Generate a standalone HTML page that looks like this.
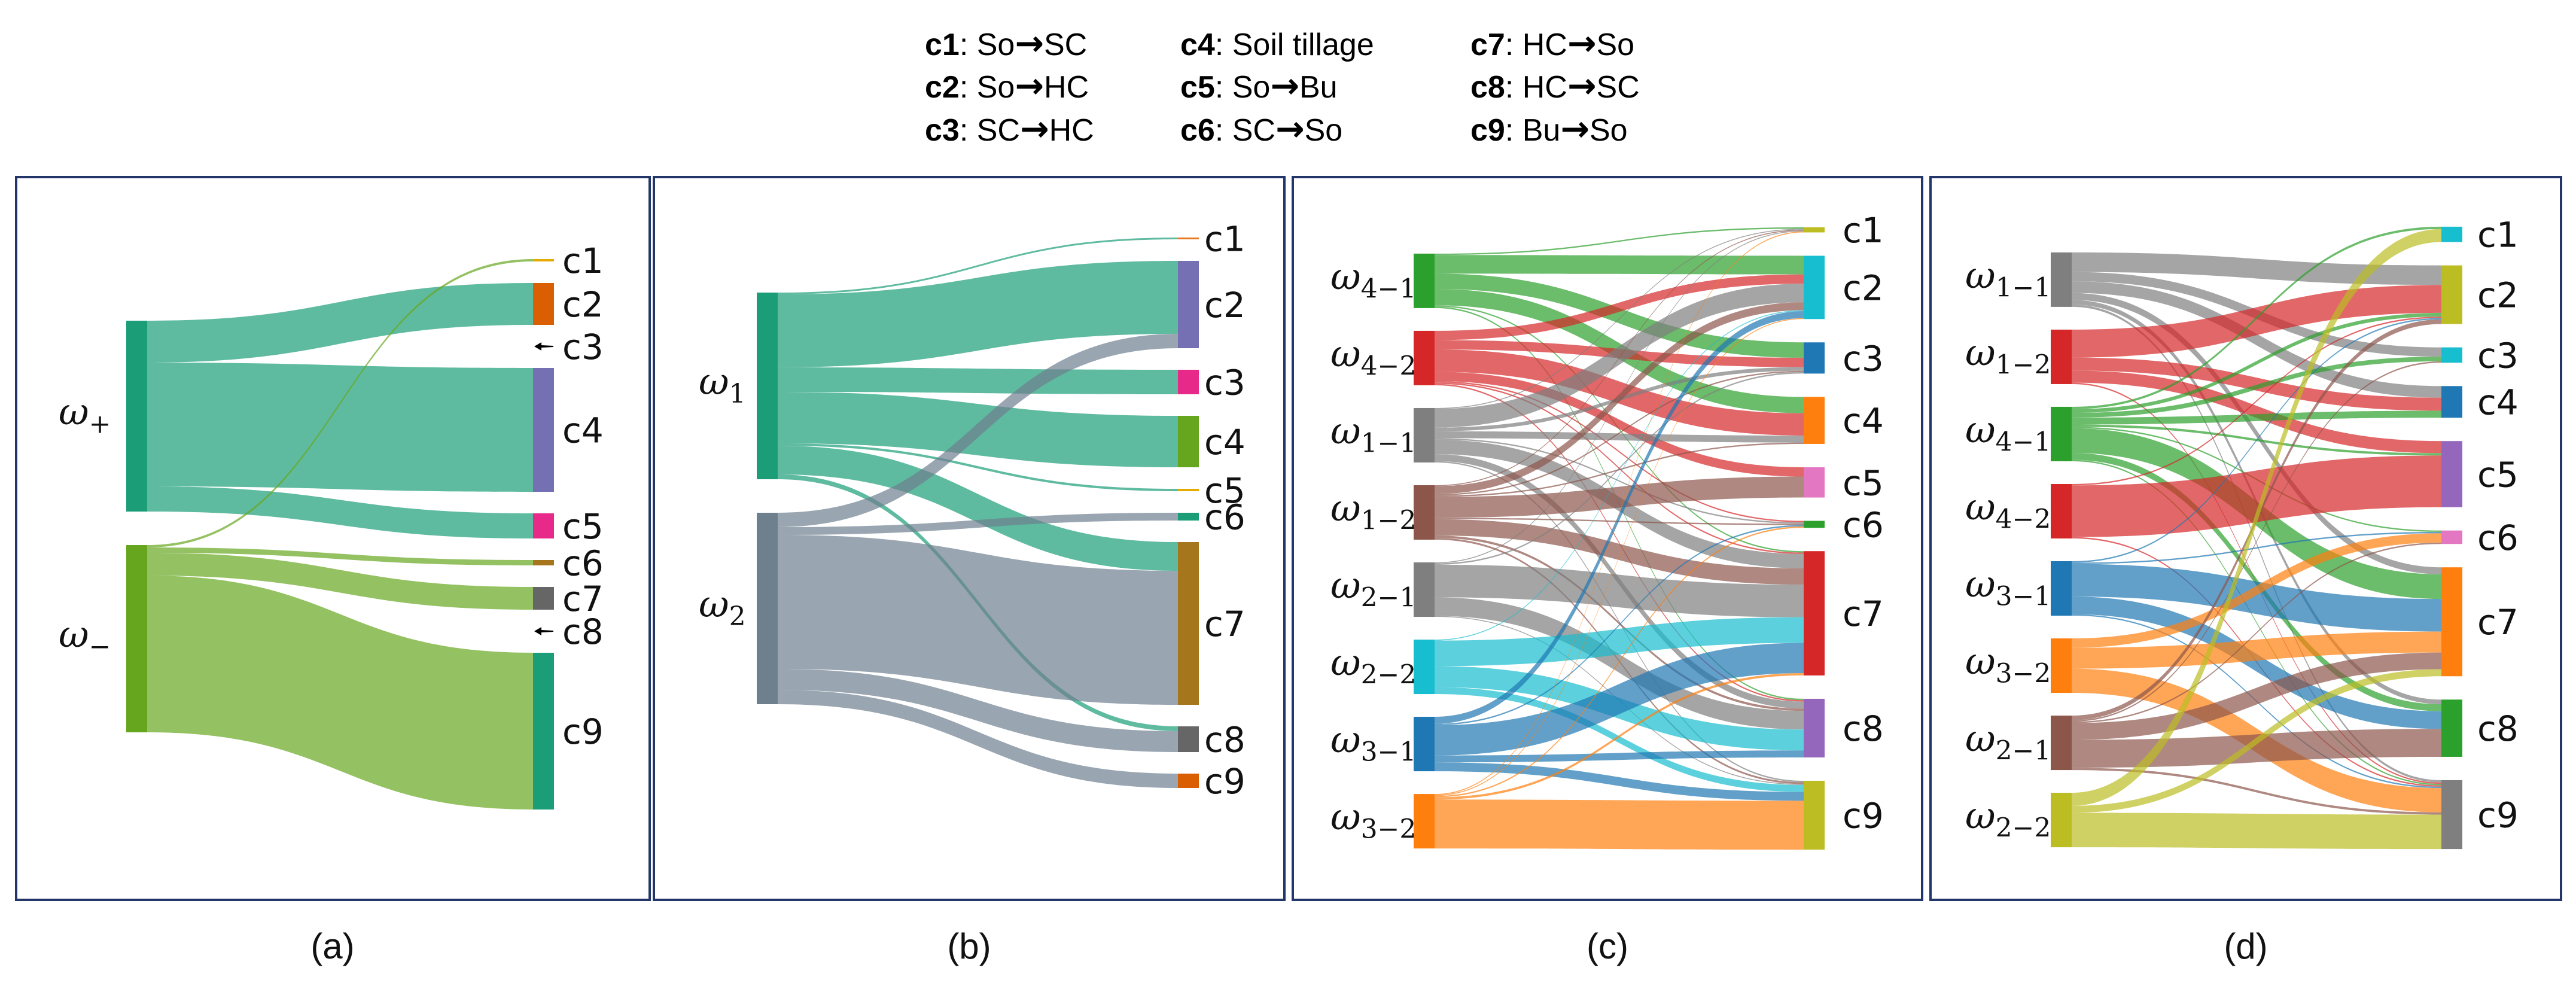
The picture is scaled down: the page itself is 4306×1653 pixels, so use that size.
<!DOCTYPE html>
<html><head><meta charset="utf-8"><title>Sankey panels</title>
<style>
html,body{margin:0;padding:0;background:#fff;}
svg{display:block;}
.leg{font-family:"Liberation Sans",sans-serif;font-size:52px;fill:#000;}
.arr{font-family:"DejaVu Sans",sans-serif;font-size:58px;font-weight:bold;}
.cl{font-family:"DejaVu Sans","Liberation Sans",sans-serif;font-size:58px;fill:#111;}
.om{font-family:"DejaVu Serif","Liberation Serif",serif;font-style:italic;font-size:62px;fill:#111;}
.sub{font-family:"DejaVu Serif","Liberation Serif",serif;font-style:normal;font-size:44px;}
.pl{font-family:"Liberation Sans",sans-serif;font-size:60px;fill:#111;}
</style></head>
<body>
<svg id="fig" width="4306" height="1653" viewBox="0 0 4306 1653" xmlns="http://www.w3.org/2000/svg">
<rect x="0" y="0" width="4306" height="1653" fill="#fff"/>
<g>
  <text class="leg" x="1546" y="92"><tspan font-weight="bold">c1</tspan>: So<tspan class="arr">→</tspan>SC</text>
  <text class="leg" x="1546" y="163"><tspan font-weight="bold">c2</tspan>: So<tspan class="arr">→</tspan>HC</text>
  <text class="leg" x="1546" y="235"><tspan font-weight="bold">c3</tspan>: SC<tspan class="arr">→</tspan>HC</text>
  <text class="leg" x="1973" y="92"><tspan font-weight="bold">c4</tspan>: Soil tillage</text>
  <text class="leg" x="1973" y="163"><tspan font-weight="bold">c5</tspan>: So<tspan class="arr">→</tspan>Bu</text>
  <text class="leg" x="1973" y="235"><tspan font-weight="bold">c6</tspan>: SC<tspan class="arr">→</tspan>So</text>
  <text class="leg" x="2458" y="92"><tspan font-weight="bold">c7</tspan>: HC<tspan class="arr">→</tspan>So</text>
  <text class="leg" x="2458" y="163"><tspan font-weight="bold">c8</tspan>: HC<tspan class="arr">→</tspan>SC</text>
  <text class="leg" x="2458" y="235"><tspan font-weight="bold">c9</tspan>: Bu<tspan class="arr">→</tspan>So</text>
</g>
<rect x="27" y="296" width="1059" height="1208" fill="none" stroke="#23366a" stroke-width="4"/>
<rect x="1093" y="296" width="1054" height="1208" fill="none" stroke="#23366a" stroke-width="4"/>
<rect x="2161" y="296" width="1052" height="1208" fill="none" stroke="#23366a" stroke-width="4"/>
<rect x="3227" y="296" width="1054" height="1208" fill="none" stroke="#23366a" stroke-width="4"/>
<text class="pl" x="556" y="1602" text-anchor="middle">(a)</text>
<text class="pl" x="1620" y="1602" text-anchor="middle">(b)</text>
<text class="pl" x="2687" y="1602" text-anchor="middle">(c)</text>
<text class="pl" x="3754" y="1602" text-anchor="middle">(d)</text>
<g id="pa"></g>
<g id="pb"></g>
<g id="pc"></g>
<g id="pd"></g>
</svg>
<script>
// ---------- data ----------
const rightNames = ['c1','c2','c3','c4','c5','c6','c7','c8','c9'];

// panel (a)
const aLeft = [['ω','+'],['ω','−']];
const aSources = [0,0,0, 1,1,1,1];
const aTargets = [1,3,4, 0,5,6,8];
const aValues  = [70,207,42, 4,9,38,262];

// panel (b)
const bLeft = [['ω','1'],['ω','2']];
const bSources = [0,0,0,0,0,0,0, 1,1,1,1,1];
const bTargets = [0,1,2,3,4,6,7, 1,5,6,7,8];
const bValues  = [3,122,41,86,4,48,8, 24,13,224,35,24];

// panel (c)
const cLeft = [['ω','4−1'],['ω','4−2'],['ω','1−1'],['ω','1−2'],['ω','2−1'],['ω','2−2'],['ω','3−1'],['ω','3−2']];
const cSources = [0,0,0,0,0,0, 1,1,1,1,1,1,1, 2,2,2,2,2,2,2,2, 3,3,3,3,3,3,3,3,3, 4,4,4,4,4, 5,5,5,5, 6,6,6,6,6, 7,7,7,7,7];
const cTargets = [0,1,2,3,6,7, 1,2,3,4,5,6,7, 0,1,2,3,5,6,7,8, 0,1,2,3,4,5,6,7,8, 0,2,6,7,8, 1,6,7,8, 1,5,6,7,8, 0,1,5,6,8];
const cValues  = [3,40,33,35,3,3, 20,20,48,20,3,3,3, 2,40,8,15,3,31,15,3, 2,17,3,3,45,3,35,5,4, 2,3,70,40,2, 2,55,45,15, 15,3,65,15,19, 2,2,3,5,105];

// panel (d)
const dLeft = [['ω','1−1'],['ω','1−2'],['ω','4−1'],['ω','4−2'],['ω','3−1'],['ω','3−2'],['ω','2−1'],['ω','2−2']];
const dSources = [0,0,0,0,0,0, 1,1,1,1, 2,2,2,2,2,2,2,2,2, 3,3,3, 4,4,4,4,4, 5,5,5, 6,6,6,6,6,6, 7,7,7];
const dTargets = [1,2,3,6,7,8, 1,3,4,8, 0,1,2,3,4,5,6,7,8, 1,4,8, 1,5,6,7,8, 5,6,8, 1,2,5,6,7,8, 0,6,8];
const dValues  = [42,20,25,15,10,5, 60,28,26,3, 5,8,10,15,5,3,53,15,3, 3,111,3, 3,3,70,38,3, 20,45,52, 10,3,3,36,60,5, 28,15,74];

// ---------- styles / layout (not data) ----------
const T10 = {blue:'#1f77b4',orange:'#ff7f0e',green:'#2ca02c',red:'#d62728',purple:'#9467bd',brown:'#8c564b',pink:'#e377c2',grey:'#7f7f7f',olive:'#bcbd22',cyan:'#17becf'};
const panels = {
  a:{g:'pa',xL:211,xR:891,w:35,cyL:880,cyR:893,gapL:56,gapR:36,k:1,lxL:98,lxR:940,
     lc:['#1b9e77','#66a61e'],
     rc:['#e6ab02','#d95f02','#000','#7570b3','#e7298a','#a6761d','#666666','#000','#1b9e77'],
     left:aLeft,src:aSources,tgt:aTargets,val:aValues},
  b:{g:'pb',xL:1265,xR:1969,w:35,cyL:833,cyR:857,gapL:56,gapR:36,k:1,lxL:1168,lxR:2013,
     lc:['#1b9e77','#6e7f8e'],
     rc:['#e6791f','#7570b3','#e7298a','#66a61e','#e6ab02','#1b9e77','#a6761d','#666666','#d95f02'],
     left:bLeft,src:bSources,tgt:bTargets,val:bValues},
  c:{g:'pc',xL:2363,xR:3015,w:35,cyL:921,cyR:900,gapL:38,gapR:39,k:0.778,lxL:2224,lxR:3080,
     lc:[T10.green,T10.red,T10.grey,T10.brown,T10.grey,T10.cyan,T10.blue,T10.orange],
     rc:[T10.olive,T10.cyan,T10.blue,T10.orange,T10.pink,T10.green,T10.red,T10.purple,T10.olive],
     left:cLeft,src:cSources,tgt:cTargets,val:cValues},
  d:{g:'pd',xL:3428,xR:4081,w:35,cyL:919,cyR:899,gapL:38,gapR:39,k:0.778,lxL:3285,lxR:4141,
     lc:[T10.grey,T10.red,T10.green,T10.red,T10.blue,T10.orange,T10.brown,T10.olive],
     rc:[T10.cyan,T10.olive,T10.cyan,T10.blue,T10.purple,T10.pink,T10.orange,T10.green,T10.grey],
     left:dLeft,src:dSources,tgt:dTargets,val:dValues}
};
const NS = 'http://www.w3.org/2000/svg';
function mk(tag, attrs, parent){
  const e = document.createElementNS(NS, tag);
  for (const key in attrs) e.setAttribute(key, attrs[key]);
  parent.appendChild(e);
  return e;
}
function draw(P, id){
  const g = document.getElementById(P.g);
  const nL = P.left.length, nR = rightNames.length;
  const outS = new Array(nL).fill(0), inS = new Array(nR).fill(0);
  P.val.forEach((v,i)=>{ outS[P.src[i]] += v; inS[P.tgt[i]] += v; });
  const scale = v => v * P.k;
  const totL = outS.reduce((s,v)=>s+scale(v),0) + P.gapL*(nL-1);
  const yL = []; let y = P.cyL - totL/2;
  outS.forEach(v=>{ yL.push(y); y += scale(v) + P.gapL; });
  const totR = inS.reduce((s,v)=>s+scale(v),0) + P.gapR*(nR-1);
  const yR = []; y = P.cyR - totR/2;
  inS.forEach(v=>{ yR.push(y); y += scale(v) + P.gapR; });
  const idx = P.val.map((v,i)=>i);
  const y0 = [], y1 = [];
  const offL = yL.slice();
  idx.slice().sort((a,b)=> P.src[a]-P.src[b] || P.tgt[a]-P.tgt[b]).forEach(i=>{ y0[i] = offL[P.src[i]]; offL[P.src[i]] += scale(P.val[i]); });
  const offR = yR.slice();
  idx.slice().sort((a,b)=> P.tgt[a]-P.tgt[b] || P.src[a]-P.src[b]).forEach(i=>{ y1[i] = offR[P.tgt[i]]; offR[P.tgt[i]] += scale(P.val[i]); });
  const x1 = P.xL + P.w, x2 = P.xR, xm = (x1+x2)/2;
  const lg = mk('g', {}, g);
  
  
  idx.forEach(i=>{
    const h = Math.max(scale(P.val[i]), 1.5);
    const a = y0[i], b = y1[i];
    const d = `M${x1},${a} C${xm},${a} ${xm},${b} ${x2},${b} L${x2},${b+h} C${xm},${b+h} ${xm},${a+h} ${x1},${a+h} Z`;
    const p = mk('path', {d:d, fill:P.lc[P.src[i]], 'fill-opacity':0.7}, lg);
    
    
  });
  outS.forEach((v,i)=>{
    const r = mk('rect', {x:P.xL, y:yL[i], width:P.w, height:scale(v), fill:P.lc[i]}, g);
    
    
    const t = mk('text', {class:'om', x:P.lxL, y:yL[i]+scale(v)/2+14}, g);
    
    
    t.appendChild(document.createTextNode(P.left[i][0]));
    const s = mk('tspan', {class:'sub', dy:'14'}, t);
    s.textContent = P.left[i][1];
  });
  inS.forEach((v,j)=>{
    const h = scale(v);
    const cy = yR[j] + h/2;
    if (v > 0){
      const r = mk('rect', {x:P.xR, y:yR[j], width:P.w, height:Math.max(h,3), fill:P.rc[j]}, g);
      
      
    } else {
      const ar = mk('path', {d:`M${P.xR+2},${cy} L${P.xR+14},${cy-7} L${P.xR+14},${cy-2} L${P.xR+34},${cy-1} L${P.xR+34},${cy+1} L${P.xR+14},${cy+2} L${P.xR+14},${cy+7} Z`, fill:'#000'}, g);
      
      
    }
    const t = mk('text', {class:'cl', x:P.lxR, y:cy+21}, g);
    
    
    t.textContent = rightNames[j];
  });
}
draw(panels.a,'a'); draw(panels.b,'b'); draw(panels.c,'c'); draw(panels.d,'d');
</script>
</body></html>
